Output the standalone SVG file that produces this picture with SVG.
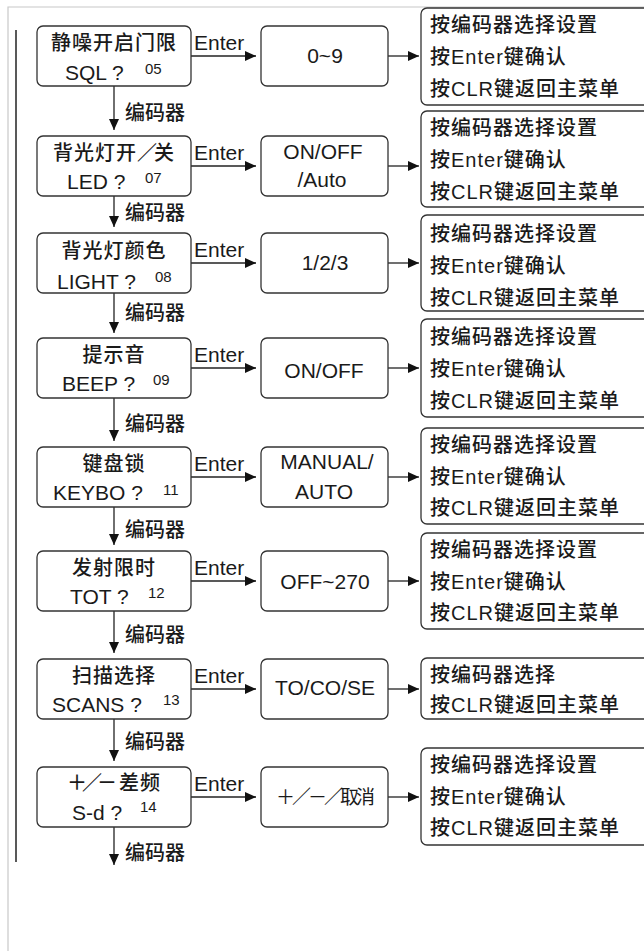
<svg xmlns="http://www.w3.org/2000/svg" width="644" height="951" viewBox="0 0 644 951">
<defs>
<style>
.box{fill:#fff;stroke:#333;stroke-width:1.3}
.t{font-family:"Liberation Sans","Noto Sans CJK SC",sans-serif;fill:#1a1a1a}
.c{font-size:20px;letter-spacing:1px;font-weight:500}
.l{font-size:21px}
.n{font-size:15px}
.m{text-anchor:middle}
.conn{stroke:#222;stroke-width:1.3;fill:none}
.frame{stroke:#c8c8c8;stroke-width:1.2;fill:none}
</style>
<marker id="ah" markerUnits="userSpaceOnUse" markerWidth="11" markerHeight="10" refX="11" refY="5" orient="auto">
<path d="M0,0 L11,5 L0,10 z" fill="#111"/>
</marker>
</defs>
<rect width="644" height="951" fill="#fff"/>
<path class="frame" d="M8,951 V7 H644"/>
<line x1="16" y1="30" x2="16" y2="862" stroke="#222" stroke-width="1.5"/>

<g id="connectors">
<g class="conn" marker-end="url(#ah)">
<line x1="191" y1="56" x2="256" y2="56"/>
<line x1="388" y1="56" x2="419" y2="56"/>
<line x1="191" y1="166" x2="256" y2="166"/>
<line x1="388" y1="166" x2="419" y2="166"/>
<line x1="191" y1="263" x2="256" y2="263"/>
<line x1="388" y1="263" x2="419" y2="263"/>
<line x1="191" y1="368" x2="256" y2="368"/>
<line x1="388" y1="368" x2="419" y2="368"/>
<line x1="191" y1="477" x2="256" y2="477"/>
<line x1="388" y1="477" x2="419" y2="477"/>
<line x1="191" y1="581" x2="256" y2="581"/>
<line x1="388" y1="581" x2="419" y2="581"/>
<line x1="191" y1="689" x2="256" y2="689"/>
<line x1="388" y1="689" x2="419" y2="689"/>
<line x1="191" y1="797" x2="256" y2="797"/>
<line x1="388" y1="797" x2="419" y2="797"/>
<line x1="114" y1="86" x2="114" y2="130"/>
<line x1="114" y1="196" x2="114" y2="227"/>
<line x1="114" y1="293" x2="114" y2="333"/>
<line x1="114" y1="398" x2="114" y2="441"/>
<line x1="114" y1="507" x2="114" y2="545"/>
<line x1="114" y1="611" x2="114" y2="653"/>
<line x1="114" y1="719" x2="114" y2="761"/>
<line x1="114" y1="827" x2="114" y2="865"/>
</g>
<g class="t l">
<text x="194" y="50">Enter</text>
<text x="194" y="160">Enter</text>
<text x="194" y="257">Enter</text>
<text x="194" y="362">Enter</text>
<text x="194" y="471">Enter</text>
<text x="194" y="575">Enter</text>
<text x="194" y="683">Enter</text>
<text x="194" y="791">Enter</text>
</g>
<g class="t" font-size="20" font-weight="500">
<text x="125" y="120">编码器</text>
<text x="125" y="220">编码器</text>
<text x="125" y="320">编码器</text>
<text x="125" y="431">编码器</text>
<text x="125" y="537">编码器</text>
<text x="125" y="642">编码器</text>
<text x="125" y="749">编码器</text>
<text x="125" y="860">编码器</text>
</g>
</g>

<g id="node-sql">
<rect class="box" x="37" y="26" width="154" height="60" rx="6"/>
<text class="t c m" x="114" y="50">静噪开启门限</text>
<text class="t l" x="65" y="80">SQL ?</text>
<text class="t n" x="145" y="74">05</text>
</g>
<g id="node-led">
<rect class="box" x="37" y="136" width="154" height="60" rx="6"/>
<text class="t c m" x="114" y="160">背光灯开<tspan letter-spacing="-3">／</tspan>关</text>
<text class="t l" x="67" y="189">LED ?</text>
<text class="t n" x="145" y="183">07</text>
</g>
<g id="node-light">
<rect class="box" x="37" y="233" width="154" height="60" rx="6"/>
<text class="t c m" x="114" y="258">背光灯颜色</text>
<text class="t l" x="57" y="289">LIGHT ?</text>
<text class="t n" x="155" y="282">08</text>
</g>
<g id="node-beep">
<rect class="box" x="37" y="338" width="154" height="60" rx="6"/>
<text class="t c m" x="114" y="362">提示音</text>
<text class="t l" x="62" y="391">BEEP ?</text>
<text class="t n" x="153" y="385">09</text>
</g>
<g id="node-keybo">
<rect class="box" x="37" y="447" width="154" height="60" rx="6"/>
<text class="t c m" x="114" y="471">键盘锁</text>
<text class="t l" x="53" y="500">KEYBO ?</text>
<text class="t n" x="163" y="495">11</text>
</g>
<g id="node-tot">
<rect class="box" x="37" y="551" width="154" height="60" rx="6"/>
<text class="t c m" x="114" y="575">发射限时</text>
<text class="t l" x="70" y="604">TOT ?</text>
<text class="t n" x="148" y="598">12</text>
</g>
<g id="node-scans">
<rect class="box" x="37" y="659" width="154" height="60" rx="6"/>
<text class="t c m" x="114" y="683">扫描选择</text>
<text class="t l" x="52" y="712">SCANS ?</text>
<text class="t n" x="163" y="705">13</text>
</g>
<g id="node-sd">
<rect class="box" x="37" y="767" width="154" height="60" rx="6"/>
<text class="t c" x="67" y="790"><tspan letter-spacing="-5">＋／－</tspan><tspan x="119">差频</tspan></text>
<text class="t l" x="72" y="820">S-d ?</text>
<text class="t n" x="140" y="812">14</text>
</g>

<g id="val-sql">
<rect class="box" x="261" y="26" width="127" height="60" rx="6"/>
<text class="t l m" x="325" y="63">0~9</text>
</g>
<g id="val-led">
<rect class="box" x="261" y="136" width="127" height="60" rx="6"/>
<text class="t l m" x="323" y="159">ON/OFF</text>
<text class="t l m" x="322" y="187">/Auto</text>
</g>
<g id="val-light">
<rect class="box" x="261" y="233" width="127" height="60" rx="6"/>
<text class="t l m" x="325" y="270">1/2/3</text>
</g>
<g id="val-beep">
<rect class="box" x="261" y="338" width="127" height="60" rx="6"/>
<text class="t l m" x="324" y="378">ON/OFF</text>
</g>
<g id="val-keybo">
<rect class="box" x="261" y="447" width="127" height="60" rx="6"/>
<text class="t l m" x="327" y="469">MANUAL/</text>
<text class="t l m" x="324" y="499">AUTO</text>
</g>
<g id="val-tot">
<rect class="box" x="261" y="551" width="127" height="60" rx="6"/>
<text class="t l m" x="325" y="589">OFF~270</text>
</g>
<g id="val-scans">
<rect class="box" x="261" y="659" width="127" height="60" rx="6"/>
<text class="t l m" x="325" y="695">TO/CO/SE</text>
</g>
<g id="val-sd">
<rect class="box" x="261" y="767" width="127" height="60" rx="6"/>
<text class="t m" x="324" y="804" font-size="19" letter-spacing="-3">＋／－／取消</text>
</g>

<g id="help-1">
<rect class="box" x="421" y="8" width="240" height="97" rx="6"/>
<text class="t c" x="430" y="32">按编码器选择设置</text>
<text class="t c" x="430" y="64">按Enter键确认</text>
<text class="t c" x="430" y="96">按CLR键返回主菜单</text>
</g>
<g id="help-2">
<rect class="box" x="421" y="111" width="240" height="96" rx="6"/>
<text class="t c" x="430" y="135">按编码器选择设置</text>
<text class="t c" x="430" y="167">按Enter键确认</text>
<text class="t c" x="430" y="199">按CLR键返回主菜单</text>
</g>
<g id="help-3">
<rect class="box" x="421" y="215" width="240" height="96" rx="6"/>
<text class="t c" x="430" y="241">按编码器选择设置</text>
<text class="t c" x="430" y="273">按Enter键确认</text>
<text class="t c" x="430" y="305">按CLR键返回主菜单</text>
</g>
<g id="help-4">
<rect class="box" x="421" y="319" width="240" height="98" rx="6"/>
<text class="t c" x="430" y="344">按编码器选择设置</text>
<text class="t c" x="430" y="376">按Enter键确认</text>
<text class="t c" x="430" y="408">按CLR键返回主菜单</text>
</g>
<g id="help-5">
<rect class="box" x="421" y="428" width="240" height="96" rx="6"/>
<text class="t c" x="430" y="452">按编码器选择设置</text>
<text class="t c" x="430" y="484">按Enter键确认</text>
<text class="t c" x="430" y="515">按CLR键返回主菜单</text>
</g>
<g id="help-6">
<rect class="box" x="421" y="533" width="240" height="96" rx="6"/>
<text class="t c" x="430" y="557">按编码器选择设置</text>
<text class="t c" x="430" y="589">按Enter键确认</text>
<text class="t c" x="430" y="620">按CLR键返回主菜单</text>
</g>
<g id="help-7">
<rect class="box" x="421" y="658" width="240" height="61" rx="6"/>
<text class="t c" x="430" y="682">按编码器选择</text>
<text class="t c" x="430" y="712">按CLR键返回主菜单</text>
</g>
<g id="help-8">
<rect class="box" x="421" y="748" width="240" height="97" rx="6"/>
<text class="t c" x="430" y="772">按编码器选择设置</text>
<text class="t c" x="430" y="804">按Enter键确认</text>
<text class="t c" x="430" y="835">按CLR键返回主菜单</text>
</g>
</svg>
